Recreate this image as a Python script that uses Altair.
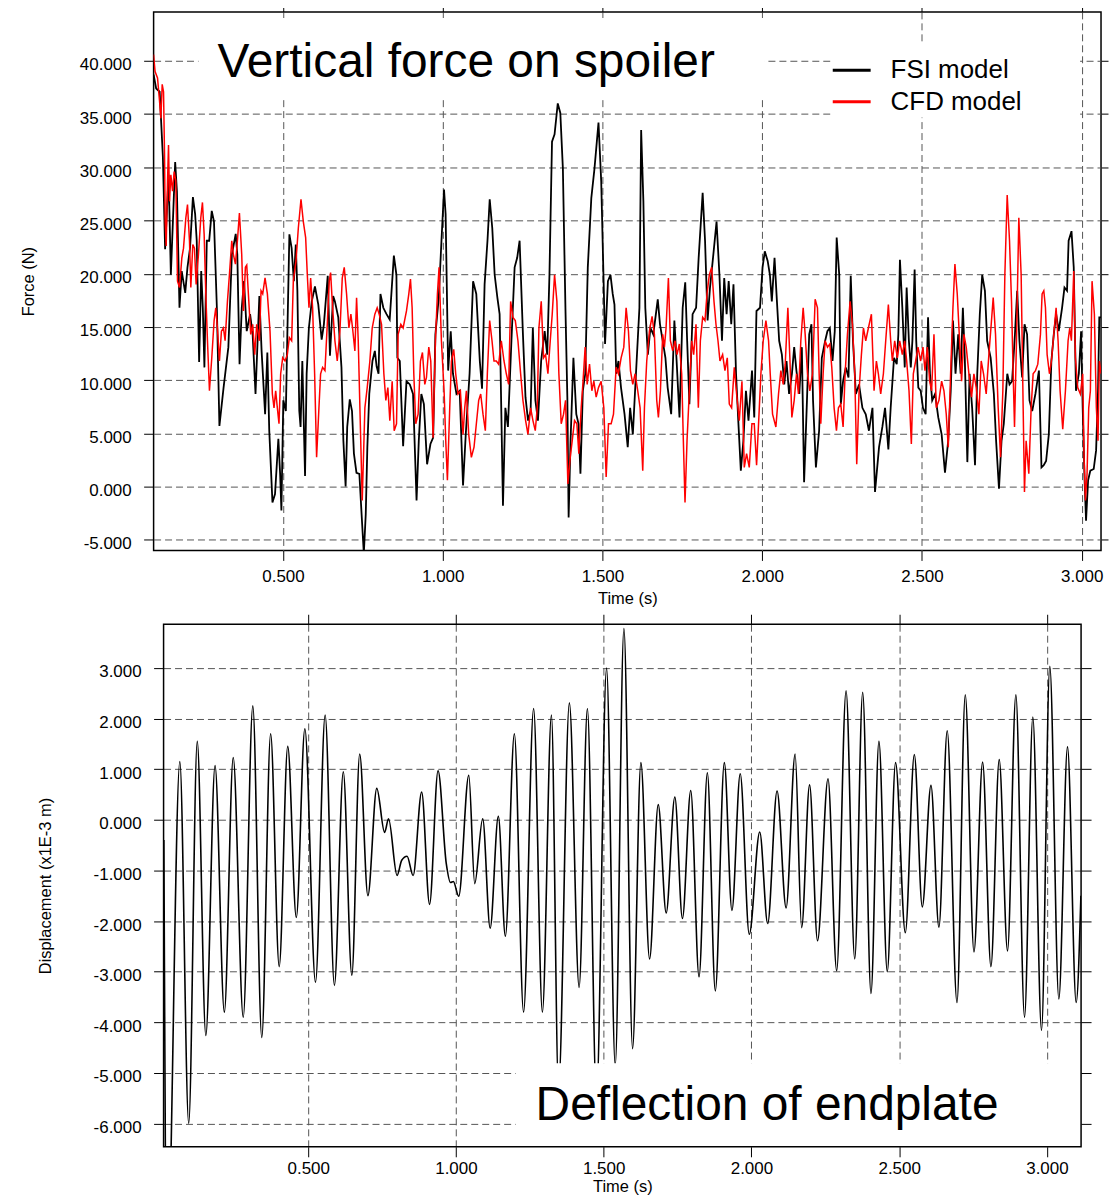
import altair as alt
import pandas as pd

FONT = "Liberation Sans"

# ---------------- data: vertical force on spoiler ----------------
FSI_T = [0.095, 0.103, 0.114, 0.124, 0.131, 0.142, 0.149, 0.1625, 0.168, 0.176, 0.183, 0.194, 0.201, 0.209,
         0.218, 0.225, 0.230, 0.2375, 0.244, 0.249, 0.254, 0.2615, 0.269, 0.277, 0.284, 0.293, 0.301, 0.314,
         0.329, 0.340, 0.352, 0.357, 0.364, 0.371, 0.378, 0.3865, 0.397, 0.405, 0.414, 0.426, 0.433, 0.444,
         0.451, 0.457, 0.467, 0.475, 0.4855, 0.491, 0.495, 0.501, 0.509, 0.514, 0.520, 0.527, 0.534, 0.540,
         0.545, 0.551, 0.555, 0.5605, 0.569, 0.574, 0.581, 0.590, 0.600, 0.6105, 0.621, 0.628, 0.640, 0.647,
         0.657, 0.6625, 0.673, 0.683, 0.689, 0.696, 0.701, 0.709, 0.716, 0.722, 0.730, 0.739, 0.746, 0.753,
         0.759, 0.764, 0.770, 0.780, 0.7875, 0.793, 0.799, 0.805, 0.814, 0.824, 0.834, 0.847, 0.855, 0.858,
         0.8656, 0.876, 0.8865, 0.897, 0.907, 0.918, 0.925, 0.933, 0.941, 0.951, 0.9615, 0.970, 0.977, 0.9875,
         0.996, 1.004, 1.009, 1.017, 1.025, 1.032, 1.043, 1.053, 1.0635, 1.072, 1.084, 1.095, 1.105, 1.116,
         1.123, 1.131, 1.140, 1.147, 1.155, 1.1625, 1.171, 1.178, 1.1885, 1.196, 1.204, 1.215, 1.225, 1.233,
         1.2406, 1.251, 1.259, 1.267, 1.275, 1.282, 1.290, 1.298, 1.308, 1.319, 1.327, 1.334, 1.342, 1.350,
         1.360, 1.368, 1.376, 1.384, 1.390, 1.394, 1.400, 1.409, 1.418, 1.425, 1.431, 1.4385, 1.446, 1.454,
         1.465, 1.475, 1.4875, 1.496, 1.503, 1.508, 1.517, 1.525, 1.532, 1.5375, 1.543, 1.550, 1.558, 1.569,
         1.579, 1.5865, 1.595, 1.602, 1.6156, 1.621, 1.628, 1.634, 1.642, 1.650, 1.659, 1.673, 1.680, 1.6885,
         1.697, 1.704, 1.715, 1.725, 1.732, 1.741, 1.751, 1.759, 1.765, 1.772, 1.782, 1.793, 1.801, 1.808,
         1.8135, 1.821, 1.829, 1.8365, 1.845, 1.857, 1.866, 1.874, 1.881, 1.8885, 1.895, 1.903, 1.910, 1.918,
         1.925, 1.933, 1.941, 1.949, 1.957, 1.968, 1.975, 1.982, 1.993, 2.001, 2.008, 2.017, 2.024, 2.030,
         2.0385, 2.046, 2.053, 2.0615, 2.069, 2.076, 2.084, 2.093, 2.100, 2.107, 2.116, 2.124, 2.131, 2.140,
         2.147, 2.154, 2.159, 2.168, 2.178, 2.1865, 2.197, 2.204, 2.2115, 2.220, 2.227, 2.233, 2.241, 2.246,
         2.253, 2.2615, 2.270, 2.277, 2.284, 2.293, 2.303, 2.3135, 2.324, 2.334, 2.345, 2.353, 2.3656, 2.376,
         2.3844, 2.3948, 2.402, 2.4125, 2.421, 2.426, 2.431, 2.4385, 2.446, 2.452, 2.459, 2.465, 2.470, 2.477,
         2.482, 2.4885, 2.496, 2.503, 2.5115, 2.519, 2.525, 2.532, 2.541, 2.551, 2.5615, 2.572, 2.582, 2.590,
         2.597, 2.605, 2.6135, 2.621, 2.628, 2.634, 2.642, 2.649, 2.657, 2.666, 2.673, 2.681, 2.6885, 2.697,
         2.704, 2.715, 2.725, 2.732, 2.741, 2.749, 2.756, 2.767, 2.774, 2.782, 2.791, 2.798, 2.805, 2.8135,
         2.821, 2.829, 2.8365, 2.845, 2.855, 2.866, 2.874, 2.881, 2.8885, 2.897, 2.905, 2.9125, 2.920, 2.928,
         2.9385, 2.946, 2.954, 2.959, 2.968, 2.975, 2.982, 2.991, 2.998, 3.003, 3.009, 3.0135, 3.020, 3.027,
         3.0375, 3.045, 3.051, 3.055, 3.0604]
FSI_F = [38.7, 37.4, 37.1, 31.0, 22.3, 29.3, 19.9, 30.5, 27.75, 16.8, 20.25, 18.2, 20.6, 22.4,
         27.2, 25.6, 23.1, 11.7, 20.25, 16.8, 11.2, 23.1, 23.1, 25.9, 24.9, 16.8, 5.7, 9.3,
         13.1, 21.8, 23.75, 21.8, 11.5, 16.8, 19.3, 14.6, 16.2, 14.3, 8.7, 17.9, 12.75, 6.8,
         12.6, 5.25, -1.5, -0.7, 4.5, 1.2, -2.25, 8.1, 7.1, 14.9, 23.7, 22.4, 19.3, 22.75,
         18.4, 7.1, 5.6, 11.8, 1.0, 10.6, 14.9, 17.4, 18.8, 17.1, 13.8, 15.25, 19.8, 12.3,
         17.9, 17.4, 15.9, 11.2, 4.3, 0.0, 5.6, 8.2, 7.1, 3.1, 1.3, 1.2, -2.6, -6.3,
         -2.6, 3.7, 8.7, 11.8, 12.75, 11.3, 10.6, 18.1, 16.8, 16.2, 15.7, 21.7, 19.9, 12.1,
         11.8, 3.8, 9.9, 9.6, 8.7, -1.3, 4.3, 8.7, 7.75, 2.1, 4.0, 4.6, 14.3, 17.75,
         23.1, 27.9, 25.6, 10.9, 14.6, 10.6, 8.7, 9.0, 0.1, 4.9, 10.6, 19.3, 18.1, 11.8,
         9.2, 19.0, 23.1, 27.0, 24.3, 19.9, 17.75, 16.2, -1.8, 7.4, 5.6, 13.7, 20.6, 21.5,
         23.1, 14.3, 8.4, 6.2, 7.1, 14.9, 8.1, 6.2, 11.8, 14.6, 12.4, 19.9, 32.4, 33.1,
         36.0, 35.1, 29.9, 16.8, 8.4, -2.9, 4.3, 12.1, 6.8, 5.9, 1.2, 9.0, 10.6, 20.6,
         27.1, 29.9, 34.2, 28.7, 19.9, 13.4, 19.3, 19.9, 18.1, 17.1, 10.6, 11.8, 9.3, 6.8,
         3.7, 7.4, 4.9, 9.0, 16.8, 33.5, 26.8, 16.8, 12.4, 14.9, 14.3, 17.6, 15.25, 13.7,
         12.1, 9.3, 6.8, 15.6, 11.8, 6.5, 16.8, 19.2, 13.7, 7.75, 16.2, 16.8, 21.5, 24.9,
         27.6, 23.1, 15.6, 18.7, 21.2, 24.9, 19.9, 13.7, 19.6, 16.2, 19.3, 15.25, 19.0, 10.6,
         6.2, 1.5, 4.3, 9.0, 6.2, 10.9, 6.5, 16.5, 16.8, 20.6, 22.1, 21.2, 19.9, 17.4,
         21.5, 17.4, 13.7, 12.4, 9.6, 11.8, 8.7, 10.6, 13.1, 10.9, 8.7, 13.1, 0.4, 8.1,
         14.3, 15.25, 8.1, 1.8, 5.25, 12.1, 13.7, 14.6, 14.9, 11.8, 14.6, 23.4, 19.9, 7.75,
         9.9, 11.2, 10.25, 19.8, 13.7, 8.7, 9.6, 7.4, 6.8, 5.25, 7.4, -0.5, 3.7, 5.6,
         7.4, 3.5, 7.4, 12.1, 11.5, 14.3, 21.3, 16.8, 11.2, 18.7, 13.7, 11.2, 13.7, 20.4,
         13.7, 9.3, 9.0, 7.4, 6.8, 15.9, 10.6, 8.1, 8.7, 6.5, 4.9, 1.3, 4.3, 9.0,
         15.6, 10.6, 14.3, 10.6, 16.8, 12.1, 2.3, 10.6, 7.4, 2.0, 10.6, 16.2, 19.9, 18.4,
         13.7, 12.1, 8.7, 4.3, -0.2, 4.3, 5.9, 10.6, 9.6, 9.9, 14.3, 18.4, 13.7, 10.25,
         15.25, 14.3, 8.1, 7.1, 8.7, 10.9, 1.8, 2.0, 2.4, 4.9, 11.8, 14.3, 16.2, 14.6,
         16.8, 18.7, 18.4, 23.1, 24.0, 20.6, 9.0, 10.6, 14.6, 7.4, 0.6, -3.2, 0.6, 1.5,
         1.65, 3.4, 9.0, 15.9, 15.9]

CFD_T = [0.0948, 0.0996, 0.1073, 0.1136, 0.1177, 0.1219, 0.1261, 0.1292, 0.1313, 0.1344, 0.1386, 0.1417,
         0.1448, 0.1490, 0.1542, 0.1594, 0.1646, 0.1698, 0.1761, 0.1834, 0.1886, 0.1959, 0.2011, 0.2073,
         0.2115, 0.2177, 0.2229, 0.2281, 0.2354, 0.2427, 0.2479, 0.2532, 0.2584, 0.2636, 0.2698, 0.2771,
         0.2844, 0.2896, 0.2948, 0.3011, 0.3073, 0.3136, 0.3188, 0.3261, 0.3323, 0.3396, 0.3448, 0.3511,
         0.3573, 0.3636, 0.3708, 0.3761, 0.3823, 0.3865, 0.3917, 0.3990, 0.4052, 0.4115, 0.4177, 0.4261,
         0.4313, 0.4365, 0.4438, 0.4511, 0.4594, 0.4667, 0.4719, 0.4771, 0.4823, 0.4875, 0.4927, 0.4990,
         0.5063, 0.5136, 0.5198, 0.5271, 0.5323, 0.5407, 0.5480, 0.5563, 0.5636, 0.5709, 0.5761, 0.5813,
         0.5865, 0.5927, 0.5990, 0.6052, 0.6125, 0.6177, 0.6240, 0.6313, 0.6386, 0.6448, 0.6490, 0.6553,
         0.6625, 0.6698, 0.6782, 0.6855, 0.6917, 0.6990, 0.7063, 0.7125, 0.7177, 0.7250, 0.7303, 0.7355,
         0.7407, 0.7480, 0.7563, 0.7636, 0.7719, 0.7792, 0.7875, 0.7948, 0.8011, 0.8084, 0.8157, 0.8219,
         0.8282, 0.8344, 0.8417, 0.8480, 0.8553, 0.8604, 0.8688, 0.8760, 0.8865, 0.8938, 0.8990, 0.9042,
         0.9094, 0.9156, 0.9229, 0.9302, 0.9365, 0.9438, 0.9490, 0.9563, 0.9625, 0.9698, 0.9771, 0.9833,
         0.9885, 0.9958, 1.0042, 1.0094, 1.0146, 1.0219, 1.0271, 1.0344, 1.0406, 1.0479, 1.0552, 1.0635,
         1.0688, 1.0740, 1.0813, 1.0896, 1.0979, 1.1052, 1.1125, 1.1188, 1.1260, 1.1333, 1.1396, 1.1469,
         1.1542, 1.1604, 1.1677, 1.1750, 1.1833, 1.1917, 1.1990, 1.2063, 1.2125, 1.2198, 1.2271, 1.2354,
         1.2438, 1.2510, 1.2594, 1.2667, 1.2750, 1.2823, 1.2896, 1.2958, 1.3010, 1.3083, 1.3156, 1.3219,
         1.3292, 1.3365, 1.3427, 1.3500, 1.3573, 1.3635, 1.3708, 1.3781, 1.3844, 1.3917, 1.3990, 1.4052,
         1.4125, 1.4198, 1.4260, 1.4333, 1.4385, 1.4458, 1.4521, 1.4594, 1.4667, 1.4729, 1.4802, 1.4875,
         1.4958, 1.5042, 1.5115, 1.5188, 1.5271, 1.5344, 1.5427, 1.5500, 1.5583, 1.5667, 1.5740, 1.5813,
         1.5875, 1.5948, 1.6021, 1.6104, 1.6177, 1.6260, 1.6313, 1.6385, 1.6469, 1.6552, 1.6625, 1.6698,
         1.6750, 1.6813, 1.6885, 1.6938, 1.6990, 1.7063, 1.7125, 1.7198, 1.7271, 1.7333, 1.7406, 1.7479,
         1.7531, 1.7583, 1.7646, 1.7719, 1.7792, 1.7854, 1.7927, 1.8000, 1.8063, 1.8135, 1.8208, 1.8271,
         1.8344, 1.8417, 1.8490, 1.8552, 1.8615, 1.8677, 1.8760, 1.8833, 1.8906, 1.8969, 1.9042, 1.9125,
         1.9198, 1.9281, 1.9365, 1.9438, 1.9510, 1.9594, 1.9677, 1.9750, 1.9823, 1.9885, 1.9958, 2.0031,
         2.0115, 2.0198, 2.0250, 2.0323, 2.0427, 2.0510, 2.0583, 2.0656, 2.0719, 2.0802, 2.0865, 2.0927,
         2.1000, 2.1073, 2.1135, 2.1208, 2.1281, 2.1344, 2.1417, 2.1490, 2.1573, 2.1656, 2.1729, 2.1781,
         2.1833, 2.1906, 2.1969, 2.2042, 2.2115, 2.2177, 2.2250, 2.2323, 2.2385, 2.2458, 2.2531, 2.2594,
         2.2667, 2.2750, 2.2823, 2.2896, 2.2958, 2.3031, 2.3104, 2.3167, 2.3240, 2.3323, 2.3417, 2.3500,
         2.3573, 2.3635, 2.3708, 2.3792, 2.3865, 2.3948, 2.4021, 2.4073, 2.4146, 2.4229, 2.4302, 2.4385,
         2.4458, 2.4521, 2.4594, 2.4667, 2.4729, 2.4802, 2.4875, 2.4958, 2.5031, 2.5094, 2.5167, 2.5240,
         2.5302, 2.5375, 2.5448, 2.5531, 2.5615, 2.5688, 2.5760, 2.5823, 2.5896, 2.5969, 2.6031, 2.6104,
         2.6177, 2.6240, 2.6313, 2.6385, 2.6469, 2.6552, 2.6625, 2.6698, 2.6781, 2.6854, 2.6927, 2.7010,
         2.7094, 2.7167, 2.7229, 2.7302, 2.7385, 2.7458, 2.7531, 2.7594, 2.7667, 2.7740, 2.7802, 2.7854,
         2.7896, 2.7958, 2.8031, 2.8104, 2.8167, 2.8208, 2.8260, 2.8344, 2.8417, 2.8479, 2.8552, 2.8625,
         2.8708, 2.8760, 2.8813, 2.8865, 2.8917, 2.8990, 2.9052, 2.9125, 2.9198, 2.9260, 2.9323, 2.9406,
         2.9490, 2.9573, 2.9625, 2.9677, 2.9750, 2.9802, 2.9875, 2.9958, 3.0031, 3.0073, 3.0115, 3.0167,
         3.0219, 3.0271, 3.0323, 3.0396, 3.0458, 3.0510, 3.0552, 3.0604]
CFD_F = [40.6, 39.0, 38.4, 36.2, 34.6, 37.8, 37.1, 31.2, 24.9, 22.6, 28.7, 32.1,
         26.8, 29.3, 27.75, 29.6, 28.7, 19.3, 18.7, 21.5, 22.4, 25.25, 26.5, 23.1,
         18.7, 22.75, 22.4, 19.0, 21.8, 25.25, 26.7, 23.7, 18.1, 13.7, 9.0, 12.1,
         15.6, 16.8, 14.9, 11.8, 14.6, 14.9, 13.7, 17.4, 19.9, 23.1, 21.8, 20.9,
         23.1, 25.7, 21.8, 16.5, 20.6, 20.8, 18.1, 14.3, 15.25, 12.4, 15.25, 13.7,
         18.4, 18.1, 19.6, 18.1, 14.6, 8.7, 7.4, 9.0, 7.4, 5.9, 10.6, 12.1,
         11.8, 12.4, 14.0, 13.7, 19.3, 21.2, 24.3, 27.0, 24.9, 23.4, 19.9, 16.8,
         19.6, 16.8, 10.6, 2.75, 7.4, 10.6, 11.2, 10.9, 15.25, 19.3, 20.1, 16.8,
         13.7, 11.8, 14.6, 19.6, 20.6, 18.1, 14.9, 16.2, 14.9, 12.75, 17.75, 13.7,
         7.4, -1.3, 7.4, 9.3, 11.8, 14.9, 16.2, 16.8, 16.2, 15.25, 10.6, 8.1,
         9.3, 6.2, 9.9, 5.25, 5.9, 14.3, 15.25, 14.9, 16.5, 18.1, 19.5, 16.8,
         10.6, 5.9, 6.8, 11.8, 12.6, 9.6, 10.25, 13.1, 11.8, 4.6, 13.7, 18.1,
         20.6, 13.7, 9.0, 4.3, 0.6, 7.4, 11.8, 12.9, 10.6, 8.7, 9.0, 4.9,
         7.4, 9.0, 4.9, 2.75, 3.7, 5.9, 8.1, 8.7, 6.8, 5.25, 10.6, 15.6,
         13.7, 11.8, 11.8, 11.5, 13.7, 11.8, 10.6, 9.6, 17.4, 15.9, 15.6, 13.7,
         10.6, 8.1, 6.2, 4.9, 7.4, 6.2, 5.25, 7.4, 14.9, 17.4, 12.1, 12.4,
         10.6, 13.7, 16.2, 19.9, 17.4, 10.6, 5.9, 6.8, 8.1, 0.25, 2.75, 4.3,
         6.2, 5.9, 3.1, 7.4, 9.6, 13.1, 9.6, 11.5, 9.0, 9.9, 8.4, 9.3,
         9.9, 7.4, 0.9, 5.9, 5.9, 6.8, 11.2, 10.6, 12.1, 13.1, 16.8, 14.6,
         10.9, 9.6, 10.6, 9.0, 7.4, 1.5, 7.4, 11.8, 14.6, 16.0, 14.3, 8.1,
         6.5, 9.0, 14.3, 13.1, 14.9, 19.6, 13.7, 12.75, 13.7, 12.4, 13.4, 10.6,
         4.3, -1.5, 4.3, 9.0, 13.7, 12.4, 15.25, 7.4, 13.7, 15.9, 15.6, 18.1,
         19.9, 20.6, 17.4, 15.25, 13.7, 11.8, 12.4, 10.9, 12.1, 7.75, 7.4, 11.2,
         8.7, 6.2, 9.9, 1.8, 3.1, 1.8, 5.9, 5.9, 2.0, 5.9, 10.6, 13.7,
         15.6, 13.7, 10.6, 6.8, 5.6, 8.7, 10.9, 9.6, 11.5, 16.8, 12.1, 6.5,
         8.1, 10.6, 8.7, 13.7, 16.8, 14.3, 10.6, 9.0, 10.6, 17.6, 16.8, 10.6,
         5.9, 10.6, 13.7, 13.1, 13.4, 11.2, 7.4, 5.25, 7.4, 7.75, 5.6, 10.6,
         14.3, 17.4, 15.25, 10.6, 2.1, 9.0, 12.4, 14.9, 13.7, 14.9, 16.2, 9.0,
         11.8, 10.6, 8.7, 10.6, 13.7, 17.1, 13.7, 11.8, 13.7, 12.1, 13.7, 12.4,
         13.7, 11.8, 9.0, 4.0, 10.6, 11.8, 13.1, 11.8, 13.1, 10.9, 13.1, 9.9,
         9.0, 14.3, 7.4, 8.1, 9.9, 9.0, 6.8, 3.7, 10.6, 16.8, 20.9, 18.1,
         13.7, 9.9, 14.3, 13.1, 10.6, 8.4, 10.6, 9.3, 6.8, 11.8, 10.6, 8.7,
         12.4, 15.25, 17.75, 14.3, 7.4, 2.75, 9.0, 19.9, 27.4, 23.1, 17.4, 10.6,
         5.6, 13.7, 25.25, 19.9, 7.4, -0.5, 4.3, 1.2, 7.4, 10.6, 10.9, 11.5,
         14.3, 18.1, 18.4, 16.8, 12.4, 10.6, 11.8, 14.3, 16.8, 13.7, 9.0, 5.4,
         9.0, 13.7, 14.9, 13.7, 20.25, 12.1, 9.3, 8.7, 10.6, 2.75, -1.3, 1.2,
         7.4, 9.0, 19.3, 16.2, 7.4, 4.3, 11.8, 10.6]

# ---------------- data: deflection of endplate ----------------
DEF_T = [0.0115, 0.022, 0.0656, 0.0957, 0.1246, 0.1536, 0.1848, 0.2163, 0.2463, 0.2802, 0.3126, 0.3429,
         0.3729, 0.4019, 0.4308, 0.4598, 0.4887, 0.5248, 0.5574, 0.5887, 0.6188, 0.6477, 0.6743, 0.7020,
         0.7321, 0.7586, 0.7719, 0.8008, 0.8165, 0.8346, 0.8551, 0.8840, 0.9107, 0.9395, 0.9672, 0.9817,
         0.9913, 1.0094, 1.0435, 1.0636, 1.0905, 1.1158, 1.1435, 1.1673, 1.1978, 1.2289, 1.2629, 1.2926,
         1.3232, 1.3472, 1.3839, 1.4169, 1.4450, 1.4756, 1.5098, 1.5391, 1.5685, 1.5978, 1.6259, 1.6553,
         1.6846, 1.7115, 1.7408, 1.7665, 1.7946, 1.8227, 1.8509, 1.8778, 1.9083, 1.9340, 1.9621, 1.9927,
         2.0281, 2.0550, 2.0868, 2.1174, 2.1479, 2.1699, 2.1968, 2.2237, 2.2592, 2.2885, 2.3203, 2.3496,
         2.3765, 2.4046, 2.4315, 2.4597, 2.4878, 2.5208, 2.5513, 2.5782, 2.6076, 2.6345, 2.6626, 2.6956,
         2.7237, 2.7531, 2.7824, 2.8105, 2.8386, 2.8667, 2.8949, 2.9242, 2.9523, 2.9817, 3.0098, 3.0403,
         3.0697, 3.0990, 3.1150]
DEF_D = [-0.4, -9.0, 1.15, -6.0, 1.55, -4.26, 1.07, -3.80, 1.23, -3.90, 2.25, -4.30,
         1.70, -2.90, 1.45, -1.93, 1.80, -3.21, 2.07, -3.27, 0.95, -3.07, 1.30, -1.50,
         0.62, -0.25, 0.02, -1.10, -0.80, -0.72, -1.10, 0.55, -1.67, 0.97, -0.86, -1.24,
         -1.22, -1.51, 0.88, -1.26, 0.02, -2.14, 0.07, -2.30, 1.70, -3.80, 2.20, -3.80,
         2.07, -5.3, 2.31, -3.31, 2.20, -5.5, 3.00, -4.85, 3.78, -4.52, 1.13, -2.75,
         0.30, -1.84, 0.45, -1.95, 0.58, -3.10, 0.93, -3.38, 1.13, -1.79, 0.91, -2.26,
         -0.24, -2.05, 0.57, -1.74, 1.30, -2.13, 0.69, -2.39, 0.81, -2.98, 2.55, -2.75,
         2.52, -3.43, 1.55, -3.00, 1.13, -2.23, 1.29, -1.72, 0.68, -2.12, 1.76, -3.61,
         2.47, -2.61, 1.14, -2.90, 1.19, -2.59, 2.47, -3.90, 2.03, -4.16, 3.03, -3.54,
         1.44, -3.61, -1.5]

SERIES = ["FSI model", "CFD model"]
COLORS = ["#000000", "#ff0000"]
X_TICKS = [0.5, 1.0, 1.5, 2.0, 2.5, 3.0]
FORCE_TICKS = [-5, 0, 5, 10, 15, 20, 25, 30, 35, 40]
DISP_TICKS = [-6, -5, -4, -3, -2, -1, 0, 1, 2, 3]
TOP_TITLE = "Vertical force on spoiler"
BOTTOM_TITLE = "Deflection of endplate"

force = pd.DataFrame({
    "t": FSI_T + CFD_T,
    "F": FSI_F + CFD_F,
    "series": [SERIES[0]] * len(FSI_T) + [SERIES[1]] * len(CFD_T),
})
defl = pd.DataFrame({"t": DEF_T, "d": DEF_D})
one = pd.DataFrame({"k": [0]})

LABEL_EXPR = "(datum.value < 0 ? '-' : '') + format(abs(datum.value), '.3f')"
GRID = dict(grid=True, gridColor="#555555", gridDash=[7, 4], gridWidth=1)


def bottom_axis(label_pad, title_y):
    return alt.Axis(orient="bottom", values=X_TICKS, labelExpr=LABEL_EXPR, labelFont=FONT,
                    labelFontSize=17, labelColor="black", labelPadding=label_pad,
                    labelBaseline="middle", labelFlush=False, labelOverlap=False,
                    tickSize=10, tickColor="black", domain=False, title="Time (s)",
                    titleFont=FONT, titleFontSize=16.5, titleFontWeight="normal",
                    titleColor="black", titleY=title_y, titleBaseline="middle", **GRID)


def left_axis(values, title, title_x, title_y, offset=0):
    return alt.Axis(orient="left", values=values, labelExpr=LABEL_EXPR, labelFont=FONT,
                    labelFontSize=17, labelColor="black", labelPadding=12.5, labelOffset=4,
                    labelFlush=False, labelOverlap=False, tickSize=10, tickColor="black",
                    domain=False, title=title, titleFont=FONT, titleFontSize=16.5,
                    titleFontWeight="normal", titleColor="black", titleX=title_x,
                    titleY=title_y, titleAngle=270, titleAlign="center",
                    titleBaseline="middle", offset=offset, **GRID)


def top_axis(tick):
    return alt.Axis(orient="top", values=X_TICKS, labels=False, tickSize=tick,
                    tickColor="black", domain=False, grid=False, title=None)


def right_axis(values, tick):
    return alt.Axis(orient="right", values=values, labels=False, tickSize=tick,
                    tickColor="black", domain=False, grid=False, title=None)


# ---------------- top panel ----------------
xs_top = alt.Scale(domain=[0.095, 3.0604], nice=False, zero=False)
ys_top = alt.Scale(domain=[-6.0, 44.6], nice=False, zero=False)
color_scale = alt.Scale(domain=SERIES, range=COLORS)
legend = alt.Legend(orient="none", legendX=679.5, legendY=45.6, title=None, labelFont=FONT,
                    labelFontSize=26, labelColor="black", symbolType="stroke", symbolSize=1444,
                    symbolStrokeWidth=3, labelOffset=18.5, rowPadding=5.4, clipHeight=26,
                    padding=0, symbolOffset=0)

fsi_line = alt.Chart(force).transform_filter(alt.datum.series == SERIES[0]).mark_line(
    strokeWidth=1.8, clip=True).encode(
    x=alt.X("t:Q", scale=xs_top, axis=bottom_axis(16.5, 48)),
    y=alt.Y("F:Q", scale=ys_top, axis=left_axis(FORCE_TICKS, "Force (N)", -125, 270)),
    color=alt.Color("series:N", scale=color_scale, legend=legend),
    order=alt.Order("t:Q"),
)
cfd_line = alt.Chart(force).transform_filter(alt.datum.series == SERIES[1]).mark_line(
    strokeWidth=1.5, clip=True).encode(
    x=alt.X("t:Q", scale=xs_top, axis=top_axis(5)),
    y=alt.Y("F:Q", scale=ys_top, axis=right_axis(FORCE_TICKS, 7)),
    color=alt.Color("series:N", scale=color_scale, legend=legend),
    order=alt.Order("t:Q"),
)
title_mask = alt.Chart(one).mark_rect(color="white").encode(
    x=alt.value(45), x2=alt.value(613), y=alt.value(6), y2=alt.value(87))
legend_mask = alt.Chart(one).mark_rect(color="white").encode(
    x=alt.value(679), x2=alt.value(929), y=alt.value(33), y2=alt.value(106))
top_text = alt.Chart(one).mark_text(text=TOP_TITLE, font=FONT, fontSize=48, align="left",
                                    baseline="alphabetic", color="black").encode(
    x=alt.value(64), y=alt.value(65))
top_spacer = alt.Chart(one).mark_text(text=".", fontSize=8, color="white", align="left",
                                      baseline="top").encode(x=alt.value(-141), y=alt.value(20))

top = alt.layer(fsi_line, cfd_line, title_mask, legend_mask, top_text, top_spacer).resolve_axis(
    x="independent", y="independent").properties(
    width=950, height=540, view=alt.ViewBackground(stroke="black", strokeWidth=1.5))

# ---------------- bottom panel ----------------
# plot frame of the lower panel sits 10 px to the right of the upper one
xs_bot = alt.Scale(domain=[0.0106, 3.1156], range=[10, 930], nice=False, zero=False)
ys_bot = alt.Scale(domain=[-6.46, 3.863], nice=False, zero=False)

def_line = alt.Chart(defl).mark_line(color="black", strokeWidth=1.6, interpolate="monotone",
                                     clip=True).encode(
    x=alt.X("t:Q", scale=xs_bot, axis=bottom_axis(12, 39.5)),
    y=alt.Y("d:Q", scale=ys_bot,
            axis=left_axis(DISP_TICKS, "Displacement (x1E-3 m)", -118.4, 262, offset=-10)),
    order=alt.Order("t:Q"),
)
def_frame = alt.Chart(defl).mark_line(opacity=0, clip=True).encode(
    x=alt.X("t:Q", scale=xs_bot, axis=top_axis(10)),
    y=alt.Y("d:Q", scale=ys_bot, axis=right_axis(DISP_TICKS, 10)),
)
bot_mask = alt.Chart(one).mark_rect(color="white").encode(
    x=alt.value(363), x2=alt.value(930), y=alt.value(440.3), y2=alt.value(524))
bot_text = alt.Chart(one).mark_text(text=BOTTOM_TITLE, font=FONT, fontSize=48, align="left",
                                    baseline="alphabetic", color="black").encode(
    x=alt.value(383), y=alt.value(497.3))
bot_box = alt.Chart(one).mark_rect(filled=False, stroke="black", strokeWidth=1.5).encode(
    x=alt.value(10), x2=alt.value(930), y=alt.value(0), y2=alt.value(524))

bottom = alt.layer(def_line, def_frame, bot_mask, bot_text, bot_box).resolve_axis(
    x="independent", y="independent").properties(
    width=930, height=524, view=alt.ViewBackground(stroke="transparent"))

chart = alt.vconcat(top, bottom, spacing=5).properties(
    padding={"left": 4, "top": -4.7, "right": 0, "bottom": -1}
)

chart.save("out.html", embed_options={"renderer": "svg", "actions": False})
